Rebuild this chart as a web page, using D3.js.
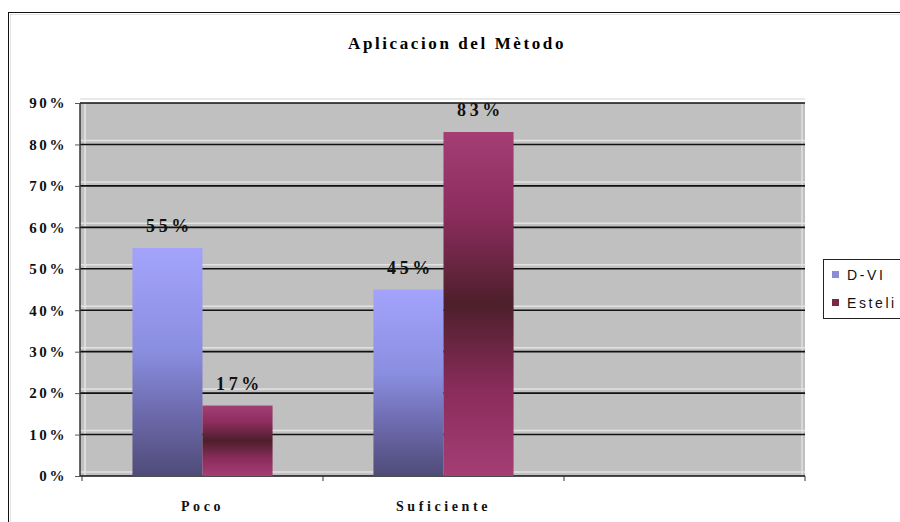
<!DOCTYPE html>
<html>
<head>
<meta charset="utf-8">
<script src="https://cdn.jsdelivr.net/npm/d3@7"></script>
<style>
  body { margin: 0; background: #fff; }
  svg { display: block; }
</style>
</head>
<body>
<svg id="demo" width="900" height="522"></svg>
<script>
// datos
var categorias = ["Poco", "Suficiente", ""];
var series = ["D-VI", "Esteli"];
var valoresDVI = [0.55, 0.45, null];
var valoresEsteli = [0.17, 0.83, null];
var ticksY = [0, 0.1, 0.2, 0.3, 0.4, 0.5, 0.6, 0.7, 0.8, 0.9];
var titulo = "Aplicacion del Mètodo";

var svg = d3.select("#demo");

// marco exterior
svg.append("rect").attr("x", 8.5).attr("y", 12.5).attr("width", 900).attr("height", 520)
    .attr("fill", "none").attr("stroke", "#111").attr("stroke-width", 1);
svg.append("rect").attr("x", 10.5).attr("y", 14.5).attr("width", 900).attr("height", 520)
    .attr("fill", "none").attr("stroke", "#e4e4e4").attr("stroke-width", 1);

// escalas
var xScale = d3.scaleBand().domain(categorias).range([82, 805]).paddingInner(0).paddingOuter(0);
var xSub = d3.scaleBand().domain(series).range([0, xScale.bandwidth()]).paddingInner(0).paddingOuter(0.72);
var yScale = d3.scaleLinear().domain([0, 0.9]).range([476, 103]);

// gradientes
var defs = svg.append("defs");
var gAzul = defs.append("linearGradient").attr("id", "gAzul").attr("x1", 0).attr("y1", 0).attr("x2", 0).attr("y2", 1);
gAzul.append("stop").attr("offset", "0%").attr("stop-color", "#a3a3fb");
gAzul.append("stop").attr("offset", "45%").attr("stop-color", "#8a8ee0");
gAzul.append("stop").attr("offset", "75%").attr("stop-color", "#6a67a8");
gAzul.append("stop").attr("offset", "100%").attr("stop-color", "#4f4b78");
var gVino = defs.append("linearGradient").attr("id", "gVino").attr("x1", 0).attr("y1", 0).attr("x2", 0).attr("y2", 1);
gVino.append("stop").attr("offset", "0%").attr("stop-color", "#a43e74");
gVino.append("stop").attr("offset", "25%").attr("stop-color", "#8a2c5c");
gVino.append("stop").attr("offset", "50%").attr("stop-color", "#4d1f2b");
gVino.append("stop").attr("offset", "75%").attr("stop-color", "#8a2c5c");
gVino.append("stop").attr("offset", "100%").attr("stop-color", "#a43e74");
var colores = { "D-VI": "url(#gAzul)", "Esteli": "url(#gVino)" };
var coloresLeyenda = { "D-VI": "#8a8cd8", "Esteli": "#7a2848" };

// titulo
svg.append("text")
    .attr("x", 457).attr("y", 49)
    .attr("text-anchor", "middle")
    .attr("font-family", "Liberation Serif, serif")
    .attr("font-weight", "bold")
    .attr("font-size", 17)
    .attr("letter-spacing", 2.6)
    .text(titulo);

// area del grafico
svg.append("rect")
    .attr("x", 80).attr("y", yScale(0.9))
    .attr("width", 725).attr("height", yScale(0) - yScale(0.9))
    .attr("fill", "#c0c0c0");
svg.append("line").attr("x1", 85).attr("x2", 85).attr("y1", yScale(0.9)).attr("y2", yScale(0))
    .attr("stroke", "#dcdcdc").attr("stroke-width", 2);
svg.append("line").attr("x1", 802).attr("x2", 802).attr("y1", yScale(0.9)).attr("y2", yScale(0))
    .attr("stroke", "#e0e0e0").attr("stroke-width", 1.5);

// lineas de cuadricula
ticksY.forEach(function (t) {
    svg.append("line")
        .attr("x1", 80).attr("x2", 805)
        .attr("y1", yScale(t) - 4).attr("y2", yScale(t) - 4)
        .attr("stroke", "#e2e2e2").attr("stroke-width", 1.5);
    svg.append("line")
        .attr("x1", 80).attr("x2", 805)
        .attr("y1", yScale(t)).attr("y2", yScale(t))
        .attr("stroke", "#111").attr("stroke-width", 1.6);
});
svg.append("line").attr("x1", 80).attr("x2", 80).attr("y1", yScale(0.9)).attr("y2", yScale(0))
    .attr("stroke", "#333").attr("stroke-width", 1.5);

// ejes
var yAxis = d3.axisLeft(yScale).tickValues(ticksY).tickFormat(d3.format(".0%")).tickSize(5).tickPadding(8);
var gy = svg.append("g").attr("transform", "translate(80,0)").call(yAxis);
gy.select(".domain").remove();
gy.selectAll(".tick line").attr("stroke", "#555");
gy.selectAll("text")
    .attr("font-family", "Liberation Serif, serif")
    .attr("font-weight", "bold")
    .attr("font-size", 15)
    .attr("letter-spacing", 2.6)
    .attr("fill", "#111");

var xAxis = d3.axisBottom(xScale).tickSize(0).tickPadding(25);
var gx = svg.append("g").attr("transform", "translate(0," + yScale(0) + ")").call(xAxis);
gx.select(".domain").remove();
gx.selectAll("text")
    .attr("font-family", "Liberation Serif, serif")
    .attr("font-weight", "bold")
    .attr("font-size", 14)
    .attr("letter-spacing", 3.6)
    .attr("fill", "#111");
// marcas entre categorias
var bordes = categorias.map(function (c) { return xScale(c); }).concat([xScale.range()[1]]);
bordes.forEach(function (b) {
    svg.append("line").attr("x1", b).attr("x2", b).attr("y1", yScale(0)).attr("y2", yScale(0) + 5)
        .attr("stroke", "#333").attr("stroke-width", 1);
});

// barras
var datos = [];
categorias.forEach(function (c, i) {
    if (valoresDVI[i] != null) datos.push({ cat: c, serie: "D-VI", v: valoresDVI[i] });
    if (valoresEsteli[i] != null) datos.push({ cat: c, serie: "Esteli", v: valoresEsteli[i] });
});

svg.selectAll(".barra")
    .data(datos)
    .enter().append("rect")
    .attr("class", "barra")
    .attr("x", function (d) { return xScale(d.cat) + xSub(d.serie); })
    .attr("y", function (d) { return yScale(d.v); })
    .attr("width", xSub.bandwidth())
    .attr("height", function (d) { return yScale(0) - yScale(d.v); })
    .attr("fill", function (d) { return colores[d.serie]; });

// etiquetas de valor
svg.selectAll(".etiqueta")
    .data(datos)
    .enter().append("text")
    .attr("class", "etiqueta")
    .attr("x", function (d) { return xScale(d.cat) + xSub(d.serie) + xSub.bandwidth() / 2 + 2; })
    .attr("y", function (d) { return yScale(d.v) - 16; })
    .attr("text-anchor", "middle")
    .attr("font-family", "Liberation Serif, serif")
    .attr("font-weight", "bold")
    .attr("font-size", 18)
    .attr("letter-spacing", 3.6)
    .attr("fill", "#111")
    .text(function (d) { return Math.round(d.v * 100) + "%"; });

// leyenda
var leyenda = svg.append("g").attr("transform", "translate(823,259)");
leyenda.append("rect").attr("x", 0.5).attr("y", 0.5).attr("width", 100).attr("height", 59)
    .attr("fill", "#fff").attr("stroke", "#222").attr("stroke-width", 1);
series.forEach(function (s, i) {
    var g = leyenda.append("g").attr("transform", "translate(0," + (i * 28) + ")");
    g.append("rect").attr("x", 9).attr("y", 12).attr("width", 7).attr("height", 7)
        .attr("fill", coloresLeyenda[s]);
    g.append("text").attr("x", 24).attr("y", 21)
        .attr("font-family", "Liberation Sans, Arial, sans-serif")
        .attr("font-size", 14)
        .attr("letter-spacing", 2.6)
        .attr("fill", "#111")
        .text(s);
});
</script>
</body>
</html>
